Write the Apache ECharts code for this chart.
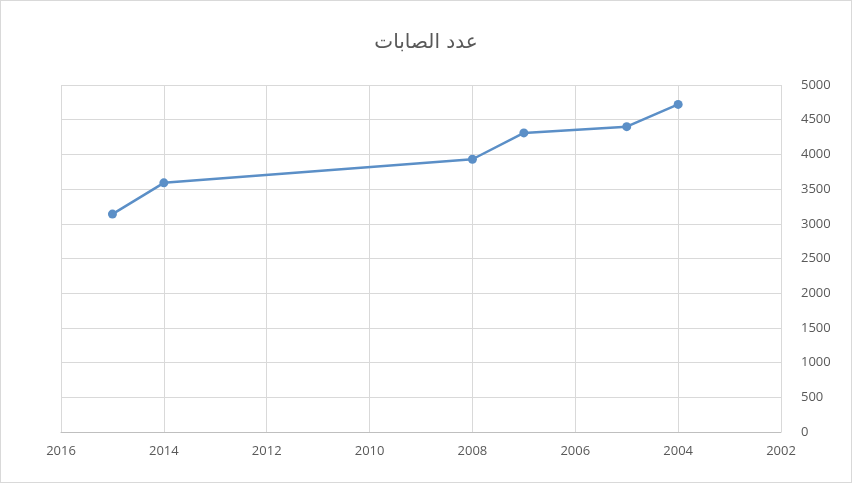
<!DOCTYPE html>
<html>
<head>
<meta charset="utf-8">
<script src="https://cdn.jsdelivr.net/npm/echarts@6/dist/echarts.min.js"></script>
<style>
	html, body { margin: 0; padding: 0; background: #fff; }
	#chart { width: 850px; height: 481px; border: 1px solid #d9d9d9; }
</style>
</head>
<body>
<div id="chart"></div>
<script>
// data
var years = [2015, 2014, 2008, 2007, 2005, 2004];
var cases = [3140, 3590, 3930, 4310, 4400, 4720];
var titleText = 'عدد الصابات';

var chartObj = echarts.init(document.getElementById('chart'));

var points = years.map(function (y, i) { return [y, cases[i]]; });

// plain numbers, no thousands separator
function plain(v) { return String(v); }

var option = {
	animation: false,
	title: {
		text: titleText,
		left: 'center',
		top: 27,
		textStyle: { color: '#595959', fontSize: 20, fontWeight: 'normal', fontFamily: 'DejaVu Sans' }
	},
	grid: { left: 60, right: 70, top: 84, bottom: 50 },
	xAxis: {
		type: 'value',
		inverse: true,
		min: 2002,
		max: 2016,
		interval: 2,
		axisLine: { show: true, lineStyle: { color: '#bfbfbf' } },
		axisTick: { show: false },
		axisLabel: { color: '#595959', fontSize: 13, margin: 13, fontFamily: 'Open Sans', formatter: plain },
		splitLine: { show: true, lineStyle: { color: '#d9d9d9' } }
	},
	yAxis: {
		type: 'value',
		position: 'right',
		min: 0,
		max: 5000,
		interval: 500,
		axisLine: { show: false },
		axisTick: { show: false },
		axisLabel: { color: '#595959', fontSize: 13, margin: 20, fontFamily: 'Open Sans', formatter: plain },
		splitLine: { show: true, lineStyle: { color: '#d9d9d9' } }
	},
	series: [
		{
			type: 'line',
			data: points,
			symbol: 'circle',
			symbolSize: 9,
			lineStyle: { color: '#5b8fc7', width: 2.5 },
			itemStyle: { color: '#5b8fc7' }
		}
	]
};
chartObj.setOption(option);
</script>
</body>
</html>
